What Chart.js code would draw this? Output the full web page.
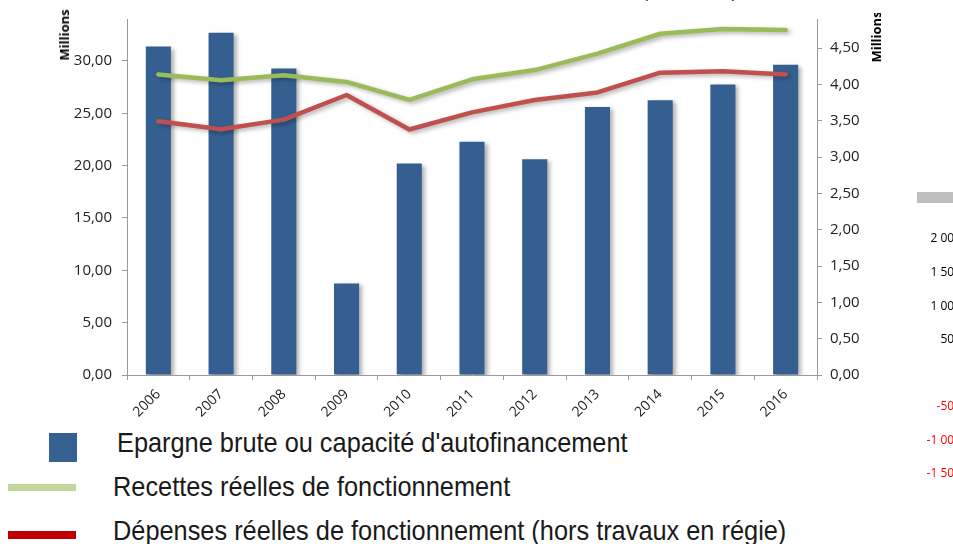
<!DOCTYPE html>
<html>
<head>
<meta charset="utf-8">
<script src="https://cdn.jsdelivr.net/npm/chart.js@4"></script>
<style>
  html, body { margin: 0; padding: 0; background: #fff; overflow: hidden; }
  body { width: 953px; height: 544px; position: relative; font-family: 'Open Sans', sans-serif; }
  #chartBox { position: absolute; left: 0; top: 0; width: 953px; height: 425px; }
  .rot { position: absolute; transform: translate(-50%, -50%) rotate(-90deg); font-weight: bold; font-size: 13px; color: #000; white-space: nowrap; }
  .lg-text { position: absolute; font-family: 'Liberation Sans', sans-serif; font-size: 28px; color: #1a1a1a; white-space: nowrap; line-height: 1; transform-origin: left center; transform: translateY(-50%) scaleX(0.905); }
  .sw { position: absolute; }
  .side { position: absolute; left: 880px; width: 81px; text-align: right; font-size: 12px; line-height: 1; transform: translateY(-50%); white-space: nowrap; }
</style>
</head>
<body>
<div id="chartBox"><canvas id="cafChart" width="953" height="425"></canvas></div>

<div style="position:absolute;left:641px;top:-28px;font-size:28px;line-height:28px;color:#1f6fb5;white-space:nowrap;">(en M€)</div>

<div class="rot" style="left:64px;top:35px;">Millions</div>
<div style="position:absolute;left:866px;top:13px;width:20px;height:50px;overflow:hidden;">
  <div class="rot" style="left:10px;top:24px;">Millions</div>
</div>

<div class="sw" style="left:49px;top:433px;width:28px;height:29px;background:#376092;"></div>
<div class="lg-text" style="left:117px;top:443px;">Epargne brute ou capacité d'autofinancement</div>
<div class="sw" style="left:8px;top:484px;width:68px;height:7px;background:#c3d69b;"></div>
<div class="lg-text" style="left:113px;top:487px;">Recettes réelles de fonctionnement</div>
<div class="sw" style="left:8px;top:531px;width:68px;height:8px;background:#c00000;"></div>
<div class="lg-text" style="left:113px;top:531px;">Dépenses réelles de fonctionnement (hors travaux en régie)</div>

<div class="sw" style="left:917px;top:192px;width:40px;height:11px;background:#bfbfbf;"></div>
<div class="side" style="top:238px;">2 000</div>
<div class="side" style="top:272px;">1 500</div>
<div class="side" style="top:306px;">1 000</div>
<div class="side" style="top:339px;">500</div>
<div class="side" style="top:406px;color:#ff0000;">-500</div>
<div class="side" style="top:440px;color:#ff0000;">-1 000</div>
<div class="side" style="top:473px;color:#ff0000;">-1 500</div>

<script>
const years = ['2006', '2007', '2008', '2009', '2010', '2011', '2012', '2013', '2014', '2015', '2016'];
// Millions d'euros
const epargneBrute = [4.52, 4.71, 4.22, 1.26, 2.91, 3.21, 2.97, 3.69, 3.78, 4.00, 4.27];
const recettes = [28.71, 28.15, 28.62, 27.99, 26.27, 28.24, 29.12, 30.69, 32.59, 33.04, 32.94];
const depenses = [24.23, 23.48, 24.39, 26.74, 23.45, 25.08, 26.27, 26.99, 28.87, 29.02, 28.71];
const leftTicks = [0, 5, 10, 15, 20, 25, 30];
const rightTicks = [0, 0.5, 1, 1.5, 2, 2.5, 3, 3.5, 4, 4.5];

const axisGrey = '#9a9a9a';

function frNumber(v) {
    return v.toFixed(2).replace('.', ',');
}

// soft drop shadow like the Excel chart
const shadowPlugin = {
    id: 'shadow',
    beforeDatasetDraw(chart) {
        const ctx = chart.ctx;
        ctx.save();
        ctx.shadowColor = 'rgba(0,0,0,0.3)';
        ctx.shadowBlur = 4;
        ctx.shadowOffsetX = 3;
        ctx.shadowOffsetY = 2;
    },
    afterDatasetDraw(chart) {
        chart.ctx.restore();
    }
};

function createCafChart(chartId) {
    const ctx = document.getElementById(chartId);

    ctx.chartInstance = new Chart(ctx, {
        type: 'bar',
        data: {
            labels: years,
            datasets: [{
                type: 'line',
                data: recettes,
                yAxisID: 'yL',
                borderColor: '#9bbb59',
                borderWidth: 4.5,
                pointRadius: 0,
                tension: 0,
                borderCapStyle: 'round',
                borderJoinStyle: 'round',
                order: 1
            }, {
                type: 'line',
                data: depenses,
                yAxisID: 'yL',
                borderColor: '#c0504d',
                borderWidth: 4.5,
                pointRadius: 0,
                tension: 0,
                borderCapStyle: 'round',
                borderJoinStyle: 'round',
                order: 2
            }, {
                data: epargneBrute,
                yAxisID: 'yR',
                backgroundColor: '#365f91',
                borderWidth: 0,
                barPercentage: 1,
                categoryPercentage: 0.4,
                order: 3
            }]
        },
        options: {
            responsive: false,
            animation: false,
            layout: { padding: { top: 13, left: 0, right: 0, bottom: 0 } },
            scales: {
                x: {
                    grid: { display: true, drawOnChartArea: false, offset: true, tickLength: 5, color: axisGrey },
                    border: { color: axisGrey },
                    ticks: {
                        maxRotation: 45, minRotation: 45, padding: 6, color: '#222',
                        font: { family: 'Open Sans', size: 14 }
                    },
                    afterFit: s => { s.height = 50; }
                },
                yL: {
                    position: 'left',
                    min: 0,
                    max: 34,
                    afterBuildTicks: s => { s.ticks = leftTicks.map(v => ({ value: v })); },
                    grid: { drawOnChartArea: false, tickLength: 5, color: axisGrey },
                    border: { color: axisGrey },
                    ticks: {
                        callback: v => frNumber(v), padding: 10, color: '#222',
                        font: { family: 'Open Sans', size: 15 }
                    },
                    afterFit: s => { s.width = 127; }
                },
                yR: {
                    position: 'right',
                    min: 0,
                    max: 4.9,
                    afterBuildTicks: s => { s.ticks = rightTicks.map(v => ({ value: v })); },
                    grid: { drawOnChartArea: false, tickLength: 5, color: axisGrey },
                    border: { color: axisGrey },
                    ticks: {
                        callback: v => frNumber(v), padding: 8, color: '#222',
                        font: { family: 'Open Sans', size: 15 }
                    },
                    afterFit: s => { s.width = 136; }
                }
            },
            plugins: {
                legend: { display: false },
                tooltip: { enabled: false }
            }
        },
        plugins: [shadowPlugin]
    });
}

createCafChart('cafChart');
</script>
</body>
</html>
